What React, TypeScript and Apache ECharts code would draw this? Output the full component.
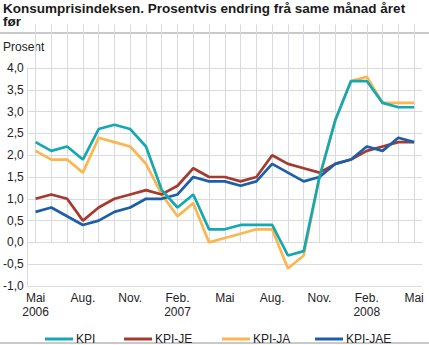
import React, { useEffect, useRef } from "react";
import * as echarts from "echarts";

const categories = [
  "Mai\n2006", "Juni", "Juli", "Aug.", "Sep.", "Okt.", "Nov.", "Des.", "Jan.",
  "Feb.\n2007", "Mars", "Apr.", "Mai", "Juni", "Juli", "Aug.", "Sep.", "Okt.",
  "Nov.", "Des.", "Jan.", "Feb.\n2008", "Mars", "Apr.", "Mai",
];

const kpi = [2.3, 2.1, 2.2, 1.9, 2.6, 2.7, 2.6, 2.2, 1.2, 0.8, 1.1, 0.3, 0.3, 0.4, 0.4, 0.4, -0.3, -0.2, 1.5, 2.8, 3.7, 3.7, 3.2, 3.1, 3.1];
const kpiJe = [1.0, 1.1, 1.0, 0.5, 0.8, 1.0, 1.1, 1.2, 1.1, 1.3, 1.7, 1.5, 1.5, 1.4, 1.5, 2.0, 1.8, 1.7, 1.6, 1.8, 1.9, 2.1, 2.2, 2.3, 2.3];
const kpiJa = [2.1, 1.9, 1.9, 1.6, 2.4, 2.3, 2.2, 1.8, 1.1, 0.6, 0.9, 0.0, 0.1, 0.2, 0.3, 0.3, -0.6, -0.3, 1.5, 2.8, 3.7, 3.8, 3.2, 3.2, 3.2];
const kpiJae = [0.7, 0.8, 0.6, 0.4, 0.5, 0.7, 0.8, 1.0, 1.0, 1.1, 1.5, 1.4, 1.4, 1.3, 1.4, 1.8, 1.6, 1.4, 1.5, 1.8, 1.9, 2.2, 2.1, 2.4, 2.3];

const seriesNames = ["KPI", "KPI-JE", "KPI-JA", "KPI-JAE"];
const colors = ["#14a8b2", "#a63a2e", "#fbb64f", "#1b5ea9"];
const legendLeft = [40, 119, 217, 310];
const titleLines = ["Konsumprisindeksen. Prosentvis endring frå same månad året", "før"];

const FONT = "'Liberation Sans', Arial, sans-serif";
const GRID = "#d8dadf";

export default function App() {
  const ref = useRef<HTMLDivElement>(null);
  useEffect(() => {
    if (!ref.current) return;
    const chart = echarts.init(ref.current, undefined, { renderer: "svg" });
    const values = [kpi, kpiJe, kpiJa, kpiJae];
    const zs = [4, 3, 2, 3];
    chart.setOption({
      animation: false,
      color: colors,
      graphic: [
        {
          type: "text", x: 3, y: 8, style: {
            text: titleLines[0], fontFamily: FONT, fontSize: 13.5, fontWeight: "bold",
            fill: "#1a1a1a", verticalAlign: "middle",
          },
        },
        {
          type: "text", x: 3, y: 21.5, style: {
            text: titleLines[1], fontFamily: FONT, fontSize: 13.5, fontWeight: "bold",
            fill: "#1a1a1a", verticalAlign: "middle",
          },
        },
        { type: "rect", shape: { x: 0, y: 32, width: 429, height: 2 }, style: { fill: "#c9c9c9" } },
        { type: "rect", shape: { x: 0, y: 342, width: 429, height: 2 }, style: { fill: "#c9c9c9" } },
        {
          type: "text", x: 3, y: 47, style: {
            text: "Prosent", fontFamily: FONT, fontSize: 12, fill: "#222", verticalAlign: "middle",
          },
        },
      ],
      legend: seriesNames.map((name, i) => ({
        left: legendLeft[i],
        top: 328,
        icon: "rect",
        itemWidth: 28,
        itemHeight: 3,
        data: [name],
        textStyle: { fontFamily: FONT, fontSize: 12, color: "#222", padding: [0, 0, 0, -2] },
      })),
      grid: { left: 25, right: 7, top: 68, height: 218 },
      xAxis: {
        type: "category",
        data: categories,
        boundaryGap: true,
        axisLine: { show: true, lineStyle: { color: GRID, width: 1 } },
        axisTick: {
          show: true,
          interval: 0,
          alignWithLabel: true,
          inside: true,
          length: 218,
          lineStyle: { color: GRID, width: 1 },
        },
        splitLine: { show: false },
        axisLabel: {
          interval: 2,
          fontFamily: FONT,
          fontSize: 12,
          color: "#222",
          margin: 5,
          lineHeight: 14,
        },
      },
      yAxis: {
        type: "value",
        min: -1,
        max: 4,
        interval: 0.5,
        axisLine: { show: true, lineStyle: { color: GRID, width: 1 } },
        axisTick: { show: false },
        splitLine: { show: true, lineStyle: { color: GRID, width: 1 } },
        axisLabel: {
          fontFamily: FONT,
          fontSize: 12,
          color: "#222",
          margin: 4,
          formatter: (v: number) => v.toFixed(1).replace(".", ","),
        },
      },
      series: seriesNames.map((name, i) => ({
        name,
        type: "line",
        data: values[i],
        z: zs[i],
        symbol: "none",
        lineStyle: { width: 2.7, color: colors[i] },
        itemStyle: { color: colors[i] },
      })),
    });
    return () => chart.dispose();
  }, []);
  return <div ref={ref} style={{ position: "absolute", left: 0, top: 0, width: 429, height: 345 }} />;
}
